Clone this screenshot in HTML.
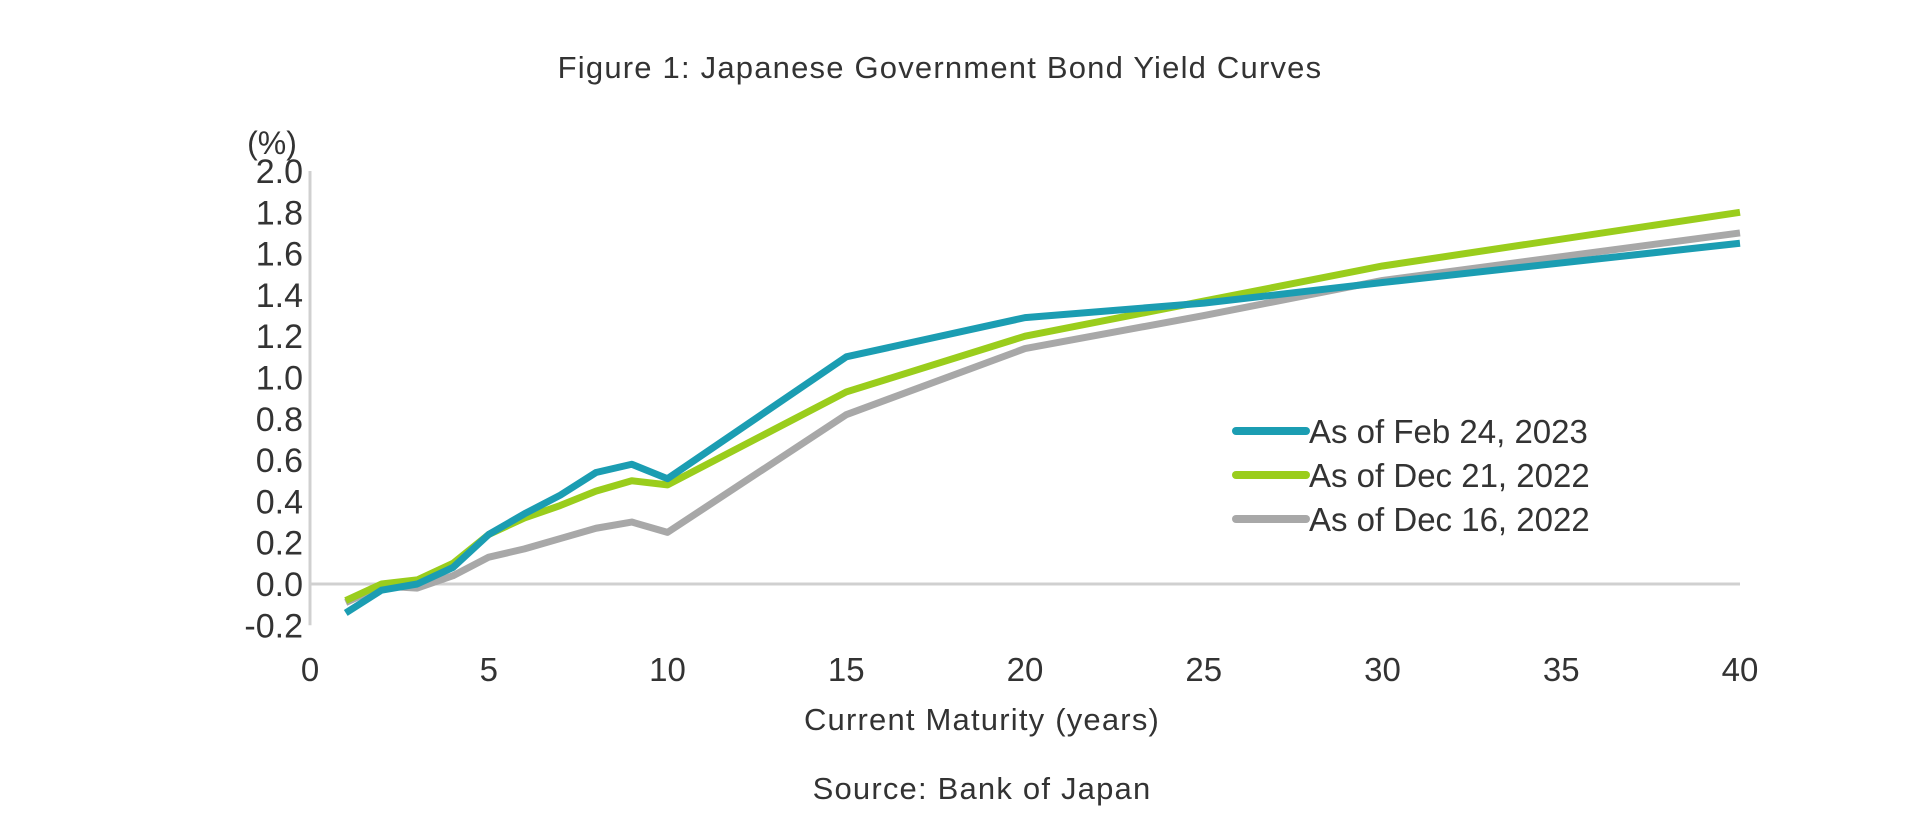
<!DOCTYPE html>
<html><head><meta charset="utf-8"><style>
body{margin:0;background:#fff;}
svg{display:block;font-family:"Liberation Sans",sans-serif;}
</style></head><body>
<svg width="1920" height="827" viewBox="0 0 1920 827">
<text x="940" y="78" text-anchor="middle" font-size="31" letter-spacing="1.2" fill="#333">Figure 1: Japanese Government Bond Yield Curves</text>
<text x="272" y="154" text-anchor="middle" font-size="32" fill="#333">(%)</text>
<g id="axes"></g>
<g id="series"></g>
<g id="legend"></g>
<text x="982" y="730" text-anchor="middle" font-size="31" letter-spacing="1.2" fill="#333">Current Maturity (years)</text>
<text x="982" y="799" text-anchor="middle" font-size="31" letter-spacing="1.2" fill="#333">Source: Bank of Japan</text>
</svg>
<script>
const maturities=[1,2,3,4,5,6,7,8,9,10,15,20,25,30,40];
const feb24=[-0.14,-0.03,0.0,0.08,0.24,0.34,0.43,0.54,0.58,0.51,1.10,1.29,1.36,1.46,1.65];
const dec21=[-0.08,0.0,0.02,0.10,0.24,0.32,0.38,0.45,0.50,0.48,0.93,1.20,1.37,1.54,1.80];
const dec16=[-0.09,-0.01,-0.02,0.04,0.13,0.17,0.22,0.27,0.30,0.25,0.82,1.14,1.30,1.47,1.70];
const yTicks=["-0.2","0.0","0.2","0.4","0.6","0.8","1.0","1.2","1.4","1.6","1.8","2.0"];
const xTicks=["0","5","10","15","20","25","30","35","40"];
const seriesNames=["As of Feb 24, 2023","As of Dec 21, 2022","As of Dec 16, 2022"];

const NS="http://www.w3.org/2000/svg";
const X=v=>310+(1740-310)*v/40;
const Y=v=>584-(v/0.2)*41.3;
function mk(tag,attrs,parent){const e=document.createElementNS(NS,tag);for(const k in attrs)e.setAttribute(k,attrs[k]);parent.appendChild(e);return e;}
const axes=document.getElementById('axes');
let l=mk('line',{x1:X(0),y1:Y(2.0),x2:X(0),y2:Y(-0.2),stroke:'#d0d0d0','stroke-width':3},axes);


l=mk('line',{x1:X(0),y1:Y(0),x2:X(40),y2:Y(0),stroke:'#d0d0d0','stroke-width':3},axes);


yTicks.forEach(t=>{const e=mk('text',{x:303,y:Y(parseFloat(t))+12,'text-anchor':'end','font-size':34,fill:'#333'},axes);e.textContent=t;

});
xTicks.forEach(t=>{const e=mk('text',{x:X(parseFloat(t)),y:681,'text-anchor':'middle','font-size':33,fill:'#333'},axes);e.textContent=t;

});
const sg=document.getElementById('series');
const colors=['#1b9db2','#9acd1c','#a8a8a8'];
const data=[feb24,dec21,dec16];
[2,1,0].forEach(i=>{const pts=maturities.map((m,j)=>X(m)+','+Y(data[i][j])).join(' ');
const p=mk('polyline',{points:pts,fill:'none',stroke:colors[i],'stroke-width':7,'stroke-linejoin':'round'},sg);

});
const lg=document.getElementById('legend');
const rows=[431,475,519];
seriesNames.forEach((n,i)=>{
const ln=mk('line',{x1:1236,y1:rows[i],x2:1306,y2:rows[i],stroke:colors[i],'stroke-width':8,'stroke-linecap':'round'},lg);


const t=mk('text',{x:1309,y:rows[i]+12,'font-size':33,fill:'#333'},lg);t.textContent=n;

});
</script>
</body></html>
